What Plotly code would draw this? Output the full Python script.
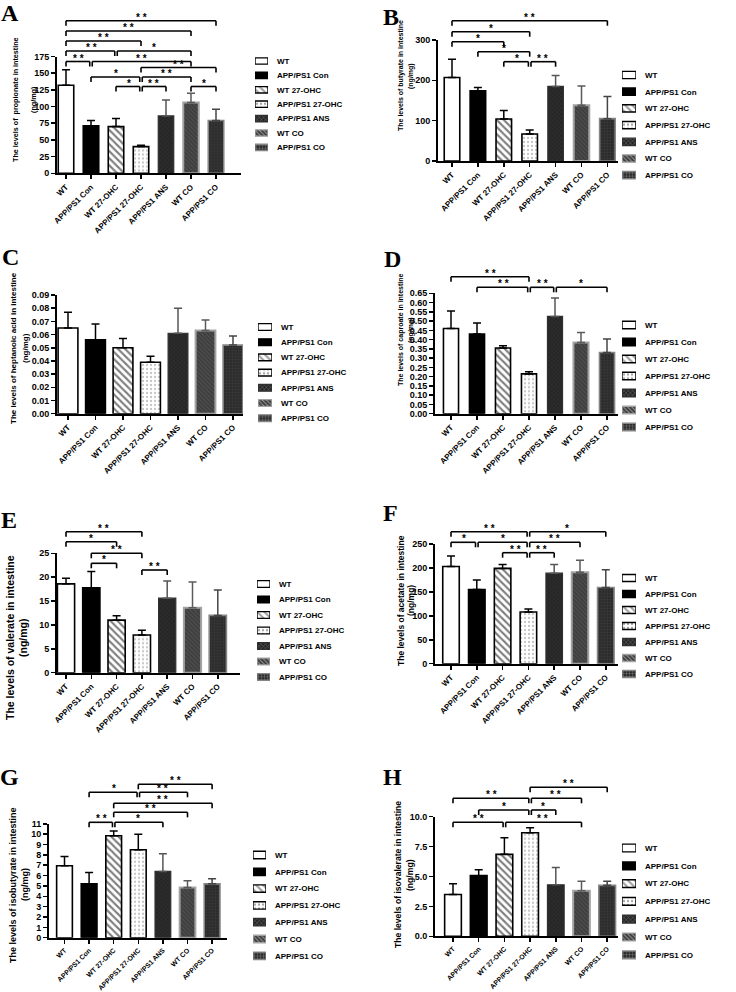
import plotly.graph_objects as go

W, H = 736, 992

# ---------------- data ----------------
groups = ["WT", "APP/PS1 Con", "WT 27-OHC", "APP/PS1 27-OHC",
          "APP/PS1 ANS", "WT CO", "APP/PS1 CO"]

propionate = [132, 71, 70, 40, 86, 106, 79]
propionate_err = [23, 8, 12, 2, 24, 14, 17]
butyrate = [207, 174, 104, 67, 185, 138, 105]
butyrate_err = [45, 8, 21, 10, 27, 48, 55]
heptanoic = [0.065, 0.056, 0.050, 0.039, 0.061, 0.063, 0.052]
heptanoic_err = [0.012, 0.012, 0.007, 0.0045, 0.019, 0.008, 0.007]
caproate = [0.46, 0.43, 0.355, 0.215, 0.525, 0.385, 0.33]
caproate_err = [0.095, 0.06, 0.012, 0.012, 0.10, 0.053, 0.073]
valerate = [18.6, 17.8, 11.0, 7.9, 15.6, 13.6, 12.0]
valerate_err = [1.2, 3.4, 0.95, 1.0, 3.6, 5.4, 5.3]
acetate = [203, 155, 199, 108, 189, 191, 159]
acetate_err = [22, 20, 8, 6, 18, 25, 37]
isobutyrate = [6.95, 5.2, 9.85, 8.5, 6.4, 4.85, 5.2]
isobutyrate_err = [0.9, 1.1, 0.45, 1.5, 1.7, 0.65, 0.5]
isovalerate = [3.5, 5.07, 6.85, 8.66, 4.3, 3.8, 4.26]
isovalerate_err = [0.9, 0.5, 1.4, 0.42, 1.45, 0.8, 0.35]

# significance comparisons (group index i, group index j, label)
sig_A = [(0, 6, "**"), (0, 5, "**"), (0, 3, "**"), (0, 2, "**"), (2, 5, "*"),
         (0, 1, "**"), (1, 5, "**"), (3, 6, "**"), (1, 3, "*"), (3, 5, "**"),
         (2, 3, "*"), (3, 4, "**"), (5, 6, "*")]
sig_B = [(0, 6, "**"), (0, 3, "*"), (0, 2, "*"), (1, 3, "*"), (2, 3, "*"), (3, 4, "**")]
sig_C = []
sig_D = [(0, 3, "**"), (1, 3, "**"), (3, 4, "**"), (4, 6, "*")]
sig_E = [(0, 3, "**"), (0, 2, "*"), (1, 3, "**"), (1, 2, "*"), (3, 4, "**")]
sig_F = [(0, 3, "**"), (3, 6, "*"), (0, 1, "*"), (1, 3, "*"), (3, 5, "**"),
         (2, 3, "**"), (3, 4, "**")]
sig_G = [(3, 6, "**"), (1, 3, "*"), (3, 5, "**"), (2, 6, "**"), (2, 5, "**"),
         (1, 2, "**"), (2, 4, "*")]
sig_H = [(3, 6, "**"), (0, 3, "**"), (3, 5, "**"), (1, 3, "*"), (3, 4, "*"),
         (0, 2, "**"), (2, 5, "**")]

titles = {
    "A": "The levels of  propionate in intestine",
    "B": "The levels of butyrate in intestine",
    "C": "The levels of heptanoic acid in intestine",
    "D": "The levels of caproate in intestine",
    "E": "The levels of valerate in intestine",
    "F": "The levels of acetate in intestine",
    "G": "The levels of isobutyrate in intestine",
    "H": "The levels of isovalerate in intestine",
}
unit = "(ng/mg)"

panels = [
    ("A", propionate, propionate_err, sig_A),
    ("B", butyrate, butyrate_err, sig_B),
    ("C", heptanoic, heptanoic_err, sig_C),
    ("D", caproate, caproate_err, sig_D),
    ("E", valerate, valerate_err, sig_E),
    ("F", acetate, acetate_err, sig_F),
    ("G", isobutyrate, isobutyrate_err, sig_G),
    ("H", isovalerate, isovalerate_err, sig_H),
]

# ---------------- layout (pixels) ----------------
LAY = {
    "A": dict(ax=57, xend=241, x0c=66, sp=25, ytop=56.5, ybot=173.3, ymax=175, dtick=25, fmt="d", bw=0.62,
              sig_y=[20.7, 31, 41, 51, 51, 61.5, 61.5, 67.5, 77, 77, 86.5, 86.5, 86.5],
              letter=(10, 13), t1=(15, 100), t2=(33, 100), tsize=7.2, xfs=8,
              leg=(255, 268, 61, 14.4)),
    "B": dict(ax=438, xend=618, x0c=452, sp=25.9, ytop=40, ybot=161, ymax=300, dtick=100, fmt="d", bw=0.6,
              sig_y=[20.7, 31.7, 41.7, 51.7, 61.7, 61.7],
              letter=(391, 17), t1=(401, 76), t2=(411, 76), tsize=7, xfs=8,
              leg=(622, 636, 75, 16.7)),
    "C": dict(ax=57, xend=243, x0c=68, sp=27.5, ytop=295, ybot=413.7, ymax=0.09, dtick=0.01, fmt=".2f", bw=0.72,
              sig_y=[],
              letter=(10, 257), t1=(13, 348), t2=(25, 348), tsize=8, xfs=8,
              leg=(258, 272, 327, 15.2)),
    "D": dict(ax=435, xend=618, x0c=451, sp=26, ytop=293.3, ybot=413.7, ymax=0.65, dtick=0.05, fmt=".2f", bw=0.58,
              sig_y=[276.7, 287.3, 287.3, 287.3],
              letter=(392, 259), t1=(401, 330), t2=(411, 330), tsize=7, xfs=8,
              leg=(622, 636, 325, 17)),
    "E": dict(ax=57, xend=240, x0c=66, sp=25.3, ytop=553.3, ybot=672.7, ymax=25, dtick=5, fmt="d", bw=0.68,
              sig_y=[531.7, 541.7, 553.3, 563.3, 570],
              letter=(9, 520), t1=(10, 638), t2=(23, 638), tsize=10.5, xfs=8,
              leg=(257, 270, 584, 15.5)),
    "F": dict(ax=435, xend=618, x0c=451, sp=25.8, ytop=544, ybot=663.7, ymax=250, dtick=50, fmt="d", bw=0.64,
              sig_y=[531.7, 531.7, 542.3, 542.3, 542.3, 552.7, 552.7],
              letter=(390, 513), t1=(401, 601), t2=(411, 601), tsize=8.5, xfs=8,
              leg=(622, 636, 578, 16)),
    "G": dict(ax=49, xend=227, x0c=64.5, sp=24.6, ytop=823.8, ybot=937.7, ymax=11, dtick=1, fmt="d", bw=0.64,
              sig_y=[784.3, 792.3, 792.3, 803.3, 812.3, 822.3, 822.3],
              letter=(9, 777), t1=(13, 885), t2=(25, 885), tsize=9, xfs=6.9,
              leg=(253, 266, 855, 16.8)),
    "H": dict(ax=435, xend=618, x0c=453, sp=25.7, ytop=816.7, ybot=936.3, ymax=10, dtick=2.5, fmt=".1f", bw=0.65,
              sig_y=[787.3, 798.3, 798.3, 810, 810, 822.3, 822.3],
              letter=(392, 777), t1=(398, 875), t2=(410, 875), tsize=8.6, xfs=6.9,
              leg=(622, 636, 848, 17.8)),
}

# ---------------- styles ----------------
FONT = "Liberation Sans, Arial, sans-serif"
STY = [
    dict(color="white", line="black", lw=1.6, shape="", fg="white", size=4, sol=0.3, ec="black"),
    dict(color="black", line="black", lw=1.6, shape="", fg="black", size=4, sol=0.3, ec="black"),
    dict(color="white", line="black", lw=1.6, shape="\\", fg="black", size=5, sol=0.42, ec="black"),
    dict(color="white", line="black", lw=1.6, shape=".", fg="#8a8a8a", size=4, sol=0.25, ec="black"),
    dict(color="#262626", line="#303030", lw=1.2, shape="x", fg="#505050", size=3, sol=0.2, ec="#555555"),
    dict(color="#3e3e3e", line="#a3a3a3", lw=2, shape="\\", fg="#6a6a6a", size=3, sol=0.3, ec="#5a5a5a"),
    dict(color="#2c2c2c", line="#858585", lw=1.6, shape="+", fg="#575757", size=3, sol=0.22, ec="#444444"),
]


def pxx(p):
    return p / W


def pxy(p):
    return 1 - p / H


fig = go.Figure()
shapes, annotations = [], []
layout = {}

for n, (key, mean, err, sig) in enumerate(panels, start=1):
    L = LAY[key]
    sfx = "" if n == 1 else str(n)
    xr, yr = "x" + sfx, "y" + sfx
    for i, g in enumerate(groups):
        s = STY[i]
        mk = dict(color=s["color"], line=dict(color=s["line"], width=s["lw"]))
        if s["shape"]:
            mk["pattern"] = dict(fillmode="overlay", shape=s["shape"], fgcolor=s["fg"],
                                 size=s["size"], solidity=s["sol"])
        fig.add_trace(go.Bar(
            x=[i], y=[mean[i]], width=[L["bw"]], marker=mk, name=g, showlegend=False,
            error_y=dict(type="data", symmetric=False, array=[err[i]], arrayminus=[0],
                         color=s["ec"], thickness=1.5, width=4),
            xaxis=xr, yaxis=yr, hoverinfo="skip"))
    xrange = [(L["ax"] - L["x0c"]) / L["sp"], (L["xend"] - L["x0c"]) / L["sp"]]
    layout["xaxis" + sfx] = dict(
        domain=[pxx(L["ax"]), pxx(L["xend"])], range=xrange, anchor=yr,
        tickmode="array", tickvals=list(range(len(groups))), ticktext=groups,
        tickangle=-45, ticks="outside", ticklen=4, tickwidth=1.5, tickcolor="black",
        showline=True, linecolor="black", linewidth=2, showgrid=False, zeroline=False,
        tickfont=dict(family=FONT, size=L["xfs"], color="black", weight="bold"), automargin=False)
    layout["yaxis" + sfx] = dict(
        domain=[pxy(L["ybot"]), pxy(L["ytop"])], range=[0, L["ymax"]], anchor=xr,
        tick0=0, dtick=L["dtick"], tickformat=L["fmt"], ticks="outside", ticklen=4,
        tickwidth=1.5, tickcolor="black", showline=True, linecolor="black", linewidth=2,
        showgrid=False, zeroline=False,
        tickfont=dict(family=FONT, size=9, color="black", weight="bold"), automargin=False)

    # significance brackets
    dom_h = L["ybot"] - L["ytop"]
    for (i, j, lab), by in zip(sig, L["sig_y"]):
        same = [(a, b) for (a, b, _), yy in zip(sig, L["sig_y"]) if abs(yy - by) < 0.5 and (a, b) != (i, j)]
        xi = i + (0.05 if any(b == i for a, b in same) else 0)
        xj = j - (0.05 if any(a == j for a, b in same) else 0)
        f = (L["ybot"] - by) / dom_h
        f2 = (L["ybot"] - (by + 5)) / dom_h
        ln = dict(color="black", width=1.6)
        for (x0, x1, y0, y1) in [(xi, xj, f, f), (xi, xi, f, f2), (xj, xj, f, f2)]:
            shapes.append(dict(type="line", xref=xr, yref=yr + " domain",
                               x0=x0, x1=x1, y0=y0, y1=y1, line=ln))
        annotations.append(dict(x=(i + j) / 2, y=f, xref=xr, yref=yr + " domain",
                                text="* *" if lab == "**" else "*", showarrow=False,
                                yanchor="bottom", yshift=-4,
                                font=dict(family=FONT, size=10, color="#000000", weight="bold")))

    # panel letter
    annotations.append(dict(x=pxx(L["letter"][0]), y=pxy(L["letter"][1]), xref="paper", yref="paper",
                            text=key, showarrow=False, xanchor="center", yanchor="middle",
                            font=dict(family="Liberation Serif, Times New Roman, serif", size=24,
                                      color="black", weight="bold")))
    # y-axis titles
    for pos, txt in ((L["t1"], titles[key]), (L["t2"], unit)):
        annotations.append(dict(x=pxx(pos[0]), y=pxy(pos[1]), xref="paper", yref="paper",
                                text=txt, textangle=-90, showarrow=False,
                                xanchor="center", yanchor="middle",
                                font=dict(family=FONT, size=L["tsize"], color="black", weight="bold")))

    # legend drawn as a mini subplot of swatches
    lx0, lx1, ly0, lsp = L["leg"]
    lsfx = str(n + 8)
    lx, ly = "x" + lsfx, "y" + lsfx
    fig.add_trace(go.Bar(
        y=groups, x=[1] * len(groups), orientation="h", width=0.44, showlegend=False,
        marker=dict(
            color=[s["color"] for s in STY],
            line=dict(color=[s["line"] for s in STY], width=1.4),
            pattern=dict(
                fillmode="overlay",
                shape=[s["shape"] for s in STY],
                fgcolor=[s["fg"] for s in STY],
                size=[s["size"] for s in STY],
                solidity=[s["sol"] for s in STY])),
        xaxis=lx, yaxis=ly, hoverinfo="skip"))
    layout["xaxis" + lsfx] = dict(domain=[pxx(lx0), pxx(lx1)], range=[0, 1], visible=False,
                                  anchor=ly, fixedrange=True)
    layout["yaxis" + lsfx] = dict(
        domain=[pxy(ly0 + 6.5 * lsp), pxy(ly0 - 0.5 * lsp)], anchor=lx, side="right",
        type="category", categoryorder="array", categoryarray=groups,
        range=[len(groups) - 0.5, -0.5], showline=False, showgrid=False, zeroline=False,
        ticks="", ticklabelstandoff=8,
        tickfont=dict(family=FONT, size=8, color="black", weight="bold"), automargin=False)

fig.update_layout(
    width=W, height=H, margin=dict(l=0, r=0, t=0, b=0),
    paper_bgcolor="white", plot_bgcolor="rgba(0,0,0,0)",
    barmode="overlay", showlegend=False, hovermode=False,
    shapes=shapes, annotations=annotations, **layout)

fig.write_html("out.html", config={"displayModeBar": False, "staticPlot": True},
               post_script="document.body.style.margin='0px';")
